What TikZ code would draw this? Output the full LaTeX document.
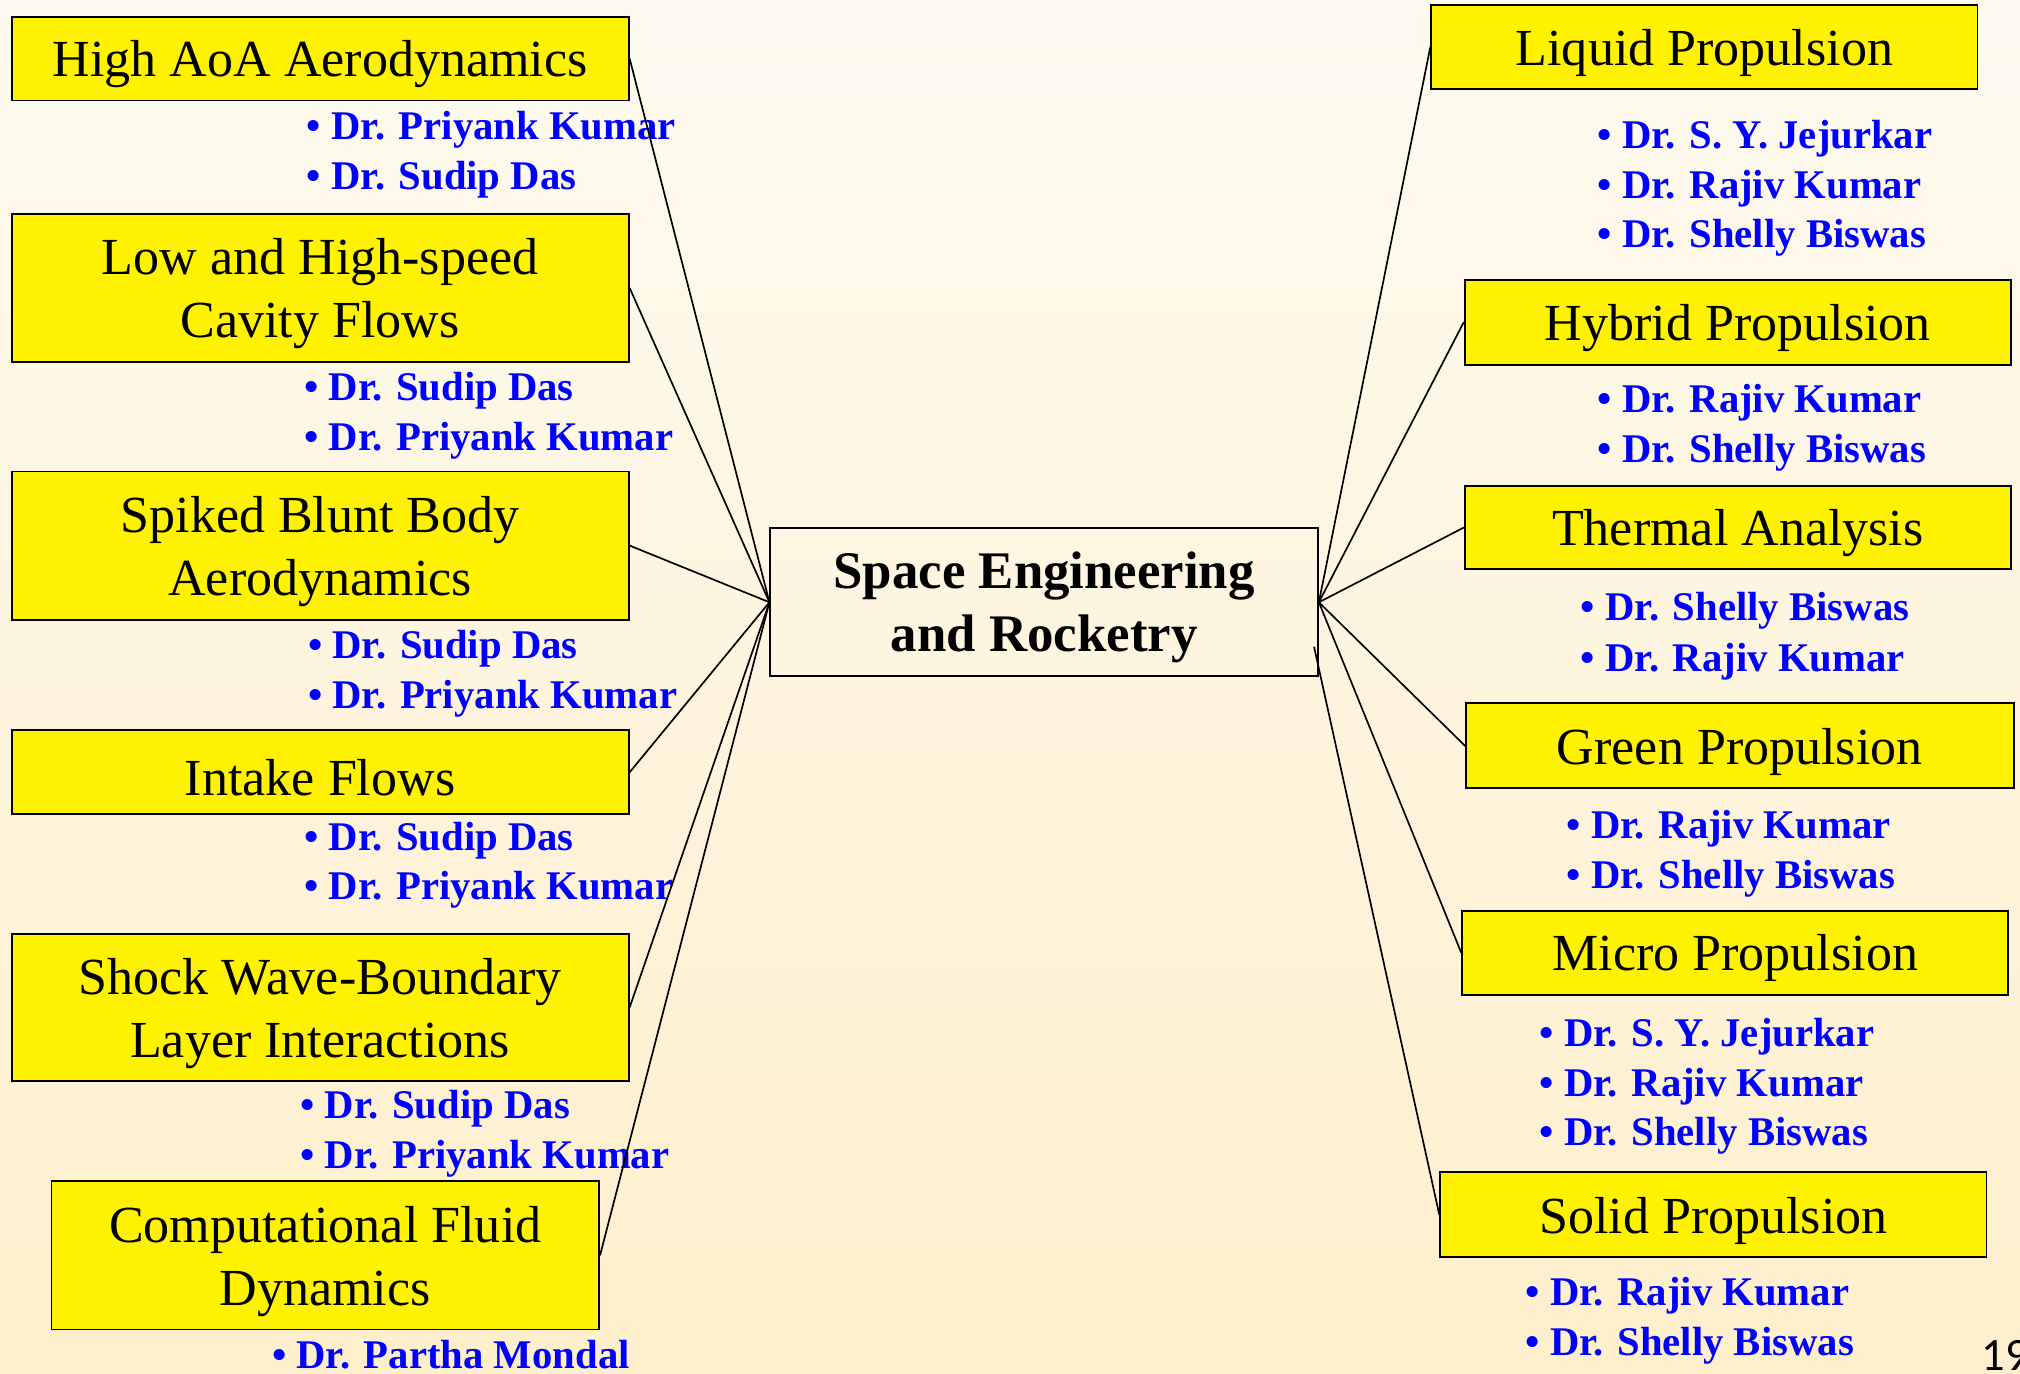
\documentclass[tikz,border=0pt]{standalone}
\usepackage{fontspec}
\setmainfont{Liberation Serif}
\newfontfamily\pagefont{Carlito}
\definecolor{bgtop}{RGB}{253,250,240}
\definecolor{bgbot}{RGB}{254,239,204}
\definecolor{namecol}{RGB}{0,0,255}
\newcommand{\tstrutA}{\rule{0pt}{37pt}}
\tikzset{
  topic/.style={draw=black, fill=yellow, line width=1.5pt, rectangle, inner sep=0pt, align=center, font=\fontsize{40.4}{49}\selectfont},
  hub/.style={draw=black, line width=1.5pt, rectangle, inner sep=0pt, align=center, font=\bfseries\fontsize{41}{49}\selectfont},
  person/.style={anchor=base west, inner sep=0pt, text=namecol, font=\bfseries\fontsize{31.6}{38}\selectfont},
  link/.style={draw=black, line width=1.3pt}
}
\begin{document}
\begin{tikzpicture}[x=1pt,y=-1pt]
\useasboundingbox (0,0) rectangle (1568,1066);
\shade[top color=bgtop, bottom color=bgbot] (0,0) rectangle (1568,1066);
\begin{scope}
\clip (0,0) rectangle (1568,1066);
% left topics
\node[topic, minimum width=479, minimum height=65] (hi) at (248.5,45.5) {\tstrutA High AoA Aerodynamics};
\node[topic, minimum width=479, minimum height=115] (low) at (248.5,223.5) {\tstrutA Low and High-speed\\Cavity Flows};
\node[topic, minimum width=479, minimum height=115] (spk) at (248.5,423.5) {\tstrutA Spiked Blunt Body\\Aerodynamics};
\node[topic, minimum width=479, minimum height=65] (int) at (248.5,599.5) {\tstrutA Intake Flows};
\node[topic, minimum width=479, minimum height=114] (shk) at (248.5,782) {\tstrutA Shock Wave-Boundary\\Layer Interactions};
\node[topic, minimum width=425, minimum height=115] (cfd) at (252.5,974.5) {\tstrutA Computational Fluid\\Dynamics};
% hub
\node[hub, minimum width=425, minimum height=115] (hub) at (810.5,467.5) {\tstrutA Space Engineering\\and Rocketry};
% right topics
\node[topic, minimum width=424, minimum height=65] (liq) at (1323,36.5) {\tstrutA Liquid Propulsion};
\node[topic, minimum width=424, minimum height=66] (hyb) at (1349,250) {\tstrutA Hybrid Propulsion};
\node[topic, minimum width=424, minimum height=65] (thm) at (1349,409.5) {\tstrutA Thermal Analysis};
\node[topic, minimum width=425, minimum height=66] (grn) at (1350.5,579) {\tstrutA Green Propulsion};
\node[topic, minimum width=424, minimum height=65] (mic) at (1347,739.5) {\tstrutA Micro Propulsion};
\node[topic, minimum width=424, minimum height=66] (sol) at (1330,943) {\tstrutA Solid Propulsion};
% names left
\node[person] (hi1) at (238,108) {\textbullet\ Dr. Priyank Kumar};
\node[person] (hi2) at (238,147) {\textbullet\ Dr. Sudip Das};
\node[person] (low1) at (236,311) {\textbullet\ Dr. Sudip Das};
\node[person] (low2) at (236,350) {\textbullet\ Dr. Priyank Kumar};
\node[person] (spk1) at (239,511) {\textbullet\ Dr. Sudip Das};
\node[person] (spk2) at (239,550) {\textbullet\ Dr. Priyank Kumar};
\node[person] (int1) at (236,660) {\textbullet\ Dr. Sudip Das};
\node[person] (int2) at (236,698) {\textbullet\ Dr. Priyank Kumar};
\node[person] (shk1) at (233,868) {\textbullet\ Dr. Sudip Das};
\node[person] (shk2) at (233,907) {\textbullet\ Dr. Priyank Kumar};
\node[person] (cfd1) at (211,1062) {\textbullet\ Dr. Partha Mondal};
% names right
\node[person] (liq1) at (1240,115) {\textbullet\ Dr. S. Y. Jejurkar};
\node[person] (liq2) at (1240,154) {\textbullet\ Dr. Rajiv Kumar};
\node[person] (liq3) at (1240,192) {\textbullet\ Dr. Shelly Biswas};
\node[person] (hyb1) at (1240,320) {\textbullet\ Dr. Rajiv Kumar};
\node[person] (hyb2) at (1240,359) {\textbullet\ Dr. Shelly Biswas};
\node[person] (thm1) at (1227,482) {\textbullet\ Dr. Shelly Biswas};
\node[person] (thm2) at (1227,521) {\textbullet\ Dr. Rajiv Kumar};
\node[person] (grn1) at (1216,651) {\textbullet\ Dr. Rajiv Kumar};
\node[person] (grn2) at (1216,690) {\textbullet\ Dr. Shelly Biswas};
\node[person] (mic1) at (1195,812) {\textbullet\ Dr. S. Y. Jejurkar};
\node[person] (mic2) at (1195,851) {\textbullet\ Dr. Rajiv Kumar};
\node[person] (mic3) at (1195,889) {\textbullet\ Dr. Shelly Biswas};
\node[person] (sol1) at (1184,1013) {\textbullet\ Dr. Rajiv Kumar};
\node[person] (sol2) at (1184,1052) {\textbullet\ Dr. Shelly Biswas};
% page number
\node[anchor=base west, inner sep=0pt, font=\pagefont\fontsize{36}{40}\selectfont] (pg) at (1538,1064) {19};
% connectors
\coordinate (solstart) at (1020,502);
\draw[link] (hi.east) -- (hub.west);
\draw[link] (low.east) -- (hub.west);
\draw[link] (spk.east) -- (hub.west);
\draw[link] (int.east) -- (hub.west);
\draw[link] (shk.east) -- (hub.west);
\draw[link] (cfd.east) -- (hub.west);
\draw[link] (hub.east) -- (liq.west);
\draw[link] (hub.east) -- (hyb.west);
\draw[link] (hub.east) -- (thm.west);
\draw[link] (hub.east) -- (grn.west);
\draw[link] (hub.east) -- (mic.west);
\draw[link] (solstart) -- (sol.west);
\end{scope}
\end{tikzpicture}
\end{document}
